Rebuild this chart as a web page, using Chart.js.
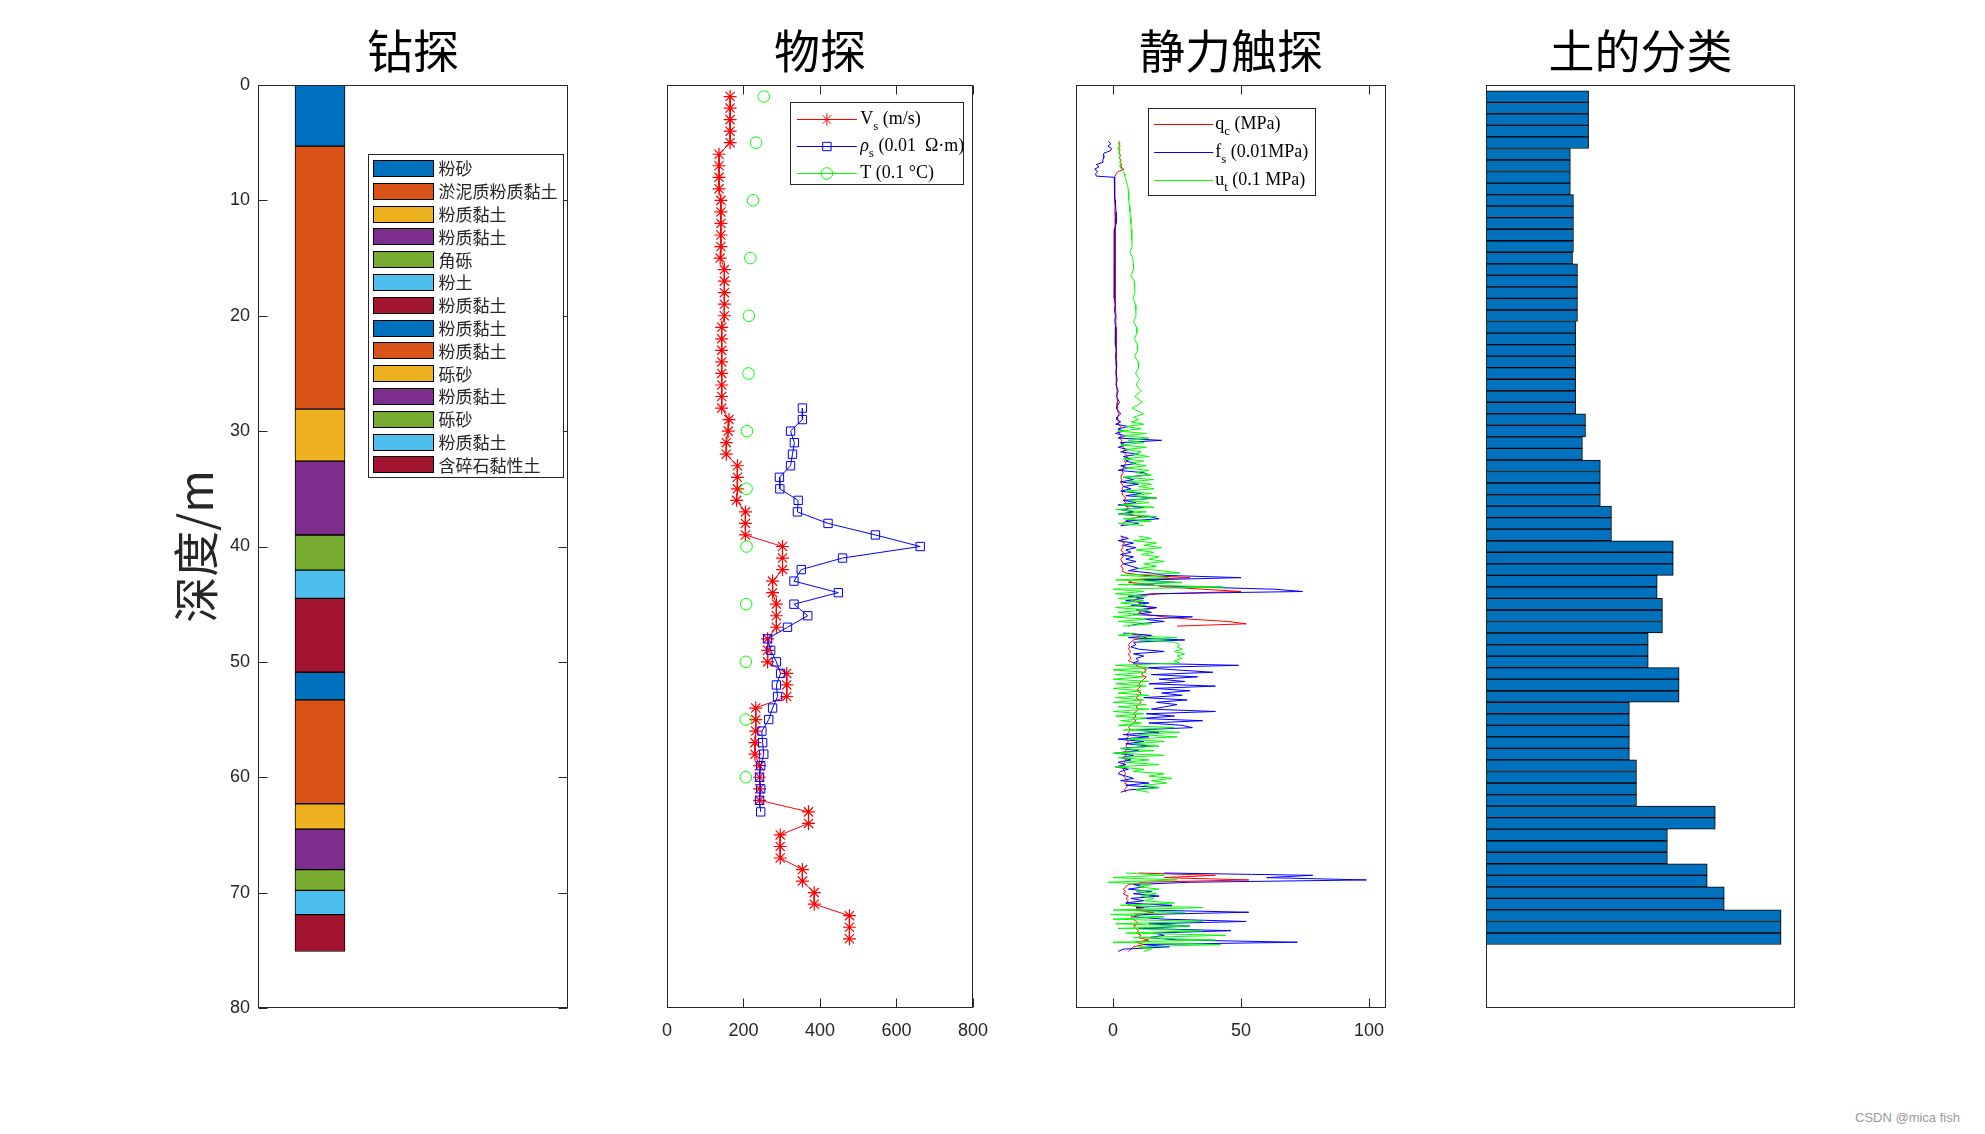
<!DOCTYPE html>
<html><head><meta charset="utf-8">
<script src="https://cdn.jsdelivr.net/npm/chart.js@4"></script>
<style>
html,body{margin:0;padding:0;background:#fff;width:1985px;height:1134px;overflow:hidden;}
canvas{position:absolute;top:0;}
#wm{position:absolute;left:1855px;top:1110px;font:13px "Liberation Sans",Arial,sans-serif;color:#9a9a9a;}
</style></head><body>
<canvas id="c1" width="440" height="1134" style="left:140px"></canvas>
<canvas id="c2" width="360" height="1134" style="left:640px"></canvas>
<canvas id="c3" width="360" height="1134" style="left:1050px"></canvas>
<canvas id="c4" width="345" height="1134" style="left:1470px"></canvas>
<div id="wm">CSDN @mica fish</div>
<script>
// ---------------- DATA ----------------
const panelTitles = ['钻探', '物探', '静力触探', '土的分类'];
const depthLabel = '深度/m';
const depthTicks = [0, 10, 20, 30, 40, 50, 60, 70, 80];

// Panel 1: borehole layers (layer i spans layerDepths[i]..layerDepths[i+1])
const layerNames = ['粉砂', '淤泥质粉质黏土', '粉质黏土', '粉质黏土', '角砾', '粉土', '粉质黏土',
  '粉质黏土', '粉质黏土', '砾砂', '粉质黏土', '砾砂', '粉质黏土', '含碎石黏性土'];
const layerDepths = [0, 5.3, 28.1, 32.6, 39.0, 42.05, 44.5, 50.9, 53.3, 62.3, 64.5, 68.0, 69.8, 71.9, 75.1];
const boreholeX = 0.2;

// Panel 2: geophysics
const geoTicks = [0, 200, 400, 600, 800];
const vsDepth = [1,2,3,4,5,6,7,8,9,10,11,12,13,14,15,16,17,18,19,20,21,22,23,24,25,26,27,28,29,30,31,32,33,34,35,36,37,
  38,39,40,41,42,43,44,45,46,47,48,49,50,51,52,53,54,55,56,57,58,59,60,61,62,63,64,65,66,67,68,69,70,71,72,73,74];
const vsValue = [165,165,165,165,165,136,136,136,136,141,141,141,141,141,139,150,150,150,150,150,143,143,143,143,143,143,143,143,
  162,160,155,155,184,184,184,182,205,205,205,302,302,302,276,276,286,286,286,263,263,263,313,313,313,232,232,232,230,230,
  242,242,242,242,370,370,296,296,296,354,354,385,385,477,477,477];
const rhoDepth = [28,29,30,31,32,33,34,35,36,37,38,39,40,41,42,43,44,45,46,47,48,49,50,51,52,53,54,55,56,57,58,59,60,61,62,63];
const rhoValue = [354,354,323,333,328,323,294,295,343,341,421,545,662,459,351,332,448,332,368,315,263,271,286,297,286,289,
  276,266,248,250,253,245,242,245,242,245];
const tDepth = [1, 5, 10, 15, 20, 25, 30, 35, 40, 45, 50, 55, 60];
const tValue = [253, 233, 225, 218, 214, 213, 209, 208, 208, 207, 206, 206, 206];
const geoLegend = [
  [{t: 'V'}, {t: 's', sub: true}, {t: ' (m/s)'}],
  [{t: 'ρ', italic: true}, {t: 's', sub: true}, {t: ' (0.01  Ω·m)'}],
  [{t: 'T (0.1 °C)'}]
];

// Panel 3: CPT
const cptTicks = [0, 50, 100];
const cptMin = -14.45, cptMax = 106.6;
const cptDepthA = [4.9,5.1,5.3,5.5,5.7,5.9,6.1,6.3,6.5,6.7,6.9,7.1,7.3,7.5,7.7,7.9,8.0,8.4,8.8,9.2,9.6,10,10.5,11,11.5,12,
  12.5,13,13.5,14,14.5,15,15.5,16,16.5,17,17.5,18,18.5,19,19.5,20,20.5,21,21.5,22,22.5,23,23.5,24,24.5,25,25.5,26,26.5,27,27.5,28,28.5,28.8];
const qcA = [2.5,2.2,2.8,2.0,2.6,2.3,3.0,2.4,3.2,2.7,3.5,3.0,4.2,2.0,1.2,0.8,0.6,0.6,0.7,0.6,0.7,0.7,0.8,0.7,0.8,0.8,
  0.9,0.8,0.9,0.9,0.9,1.0,0.9,1.0,1.0,1.1,1.0,1.1,1.1,1.0,1.1,1.2,1.1,1.2,1.2,1.3,1.2,1.3,1.3,1.4,1.3,1.4,1.5,1.4,1.6,1.5,1.8,1.6,2.2,1.8];
const fsA = [-1.8,-0.8,-2.0,-0.5,-1.0,-3.5,-3.8,-3.6,-4.0,-3.9,-6.5,-5.5,-7.2,-6.0,-6.8,-6.5,0.5,0.6,0.5,0.7,0.6,0.8,1.0,1.2,1.3,1.2,
  0.6,0.5,0.4,0.5,0.4,0.5,0.4,0.6,0.5,0.7,0.4,0.6,0.5,0.8,0.6,0.9,0.7,1.0,0.8,1.1,0.9,1.3,1.0,1.2,1.4,1.1,1.6,1.2,2.0,1.4,2.5,1.2,3.0,1.5];
const utA = [2.5,2.6,2.3,2.7,2.4,2.6,2.8,2.5,2.9,2.7,3.0,2.8,3.2,4.0,4.5,4.6,4.8,5.3,5.8,6.0,6.1,6.2,6.4,6.6,6.8,7.0,
  7.1,7.3,7.4,7.5,6.6,7.7,7.9,8.0,7.0,8.3,8.4,8.6,7.8,8.8,8.9,9.0,8.0,9.2,9.3,8.4,9.5,9.6,8.5,9.8,10.0,8.8,10.4,9.0,11.0,8.5,11.5,7.5,12.0,8.0];
// sampled records (start depth, sample step in m)
const cptStartB = 29.0, cptStartC1 = 39.1, cptStartC2 = 47.5, cptStartD = 68.3, cptStep = 0.2;
const qcB = [2,2.5,2,3,2.5,2,2.5,3,2.5,3.5,3,3.5,4,4.5,4,5,5.5,5,4.5,5,4.5,4,3.5,4,3.5,3,3.5,3,3.5,4,3.5,4,3.5,4,5,4,5,4,6,5,8,6,11,7,5,4,3];
const fsB = [1.5,3,1,6,2,4,1,5,2,19,3,5,2,6,3,10,4,7,5,9,3,6,2,12,14,4,8,3,10,4,7,3,11,5,17,4,9,2,12,3,8,2,14,18,5,10,3];
const utB = [10,7,12,5,11,2,13,4,14,6,12,3,13,5,11,8,14,4,12,7,13,5,14,9,15,4,16,6,15,10,16,5,15,8,17,6,14,3,16,1,13,2,17,4,15,2,12];
const qcC1 = [3,4,3,4.5,3.5,4,3,4,3.5,4,3,3.5,4,3,4,3.5,5,12,30,8,6,15,20,35,50,18,9,10,8,11,9,17,12,10,13,20,30,45,52,25];
const fsC1 = [3,6,2,8,4,9,5,7,3,8,5,9,4,7,10,6,15,20,50,12,24,8,30,63,74,15,6,12,5,14,7,17,9,15,8,31,12,20,10,6];
const utC1 = [10,15,8,17,12,19,9,16,11,18,14,20,12,17,10,19,26,3,22,1,27,2,43,0,12,1,13,2,12,3,13,1,14,2,11,0,13,2,15,4];
const qcC2 = [6,10,13,8,7,6,6.5,6,7,6,6.5,7,6,8,9,11,13,12,11,13,12,11,10,11,10,9,11,10,9,10,11,10,9,10,9,8,9,8,9,8,
  7,6,7,6,5.5,6,5,6,5.5,5,6,5,4.5,5,4,5,4.5,4,5,4,4.5,5,4,5,5.5,4.5,6,5,4.5,5];
const fsC2 = [4,15,6,28,8,9,7,10,20,8,12,9,10,8,49,12,25,39,15,33,18,28,14,40,16,30,19,27,12,29,17,25,20,15,40,13,24,11,35,14,
  27,31,9,18,4,14,2,12,5,15,3,10,1,8,3,7,2,5,1,6,3,2,5,8,3,14,5,18,6,3];
const utC2 = [8,2,25,10,24,26,25,27,24,28,25,27,24,26,1,14,0,13,1,12,0,14,1,13,0,11,2,14,1,12,0,13,2,14,0,12,1,13,3,11,
  2,24,4,26,10,25,6,20,8,18,3,16,0,20,2,14,5,18,1,12,8,20,14,23,15,21,12,18,9,14];
const qcD = [10,40,20,53,12,6,5,4,5,4,6,5,6,5,7,12,8,16,9,7,8,9,10,8,9,10,9,11,10,14,9,12,8,7,6];
const fsD = [20,78,60,99,30,8,12,6,15,8,18,7,12,5,23,9,10,53,12,8,20,52,14,30,10,46,16,20,14,25,72,12,22,4,2];
const utD = [5,20,0,25,-2,15,10,18,9,17,11,16,12,24,3,35,0,28,-1,20,0,35,1,30,2,35,5,44,8,40,0,42,10,15,12];
const cptLegend = [
  [{t: 'q'}, {t: 'c', sub: true}, {t: ' (MPa)'}],
  [{t: 'f'}, {t: 's', sub: true}, {t: ' (0.01MPa)'}],
  [{t: 'u'}, {t: 't', sub: true}, {t: ' (0.1 MPa)'}]
];

// Panel 4: soil classification
const soilDepth = vsDepth;
const soilValue = [33.2,33.2,33.2,33.2,33.2,27.3,27.3,27.3,27.3,28.3,28.3,28.3,28.3,28.3,28.0,29.6,29.6,29.6,29.6,29.6,
  29.0,29.0,29.0,29.0,29.0,29.0,29.0,29.0,32.2,32.2,31.2,31.2,37.0,37.0,37.0,37.0,40.6,40.6,40.6,60.6,60.6,60.6,
  55.4,55.4,57.1,57.1,57.1,52.5,52.5,52.5,62.5,62.5,62.5,46.4,46.4,46.4,46.4,46.4,48.7,48.7,48.7,48.7,74.2,74.2,
  58.7,58.7,58.7,71.6,71.6,77.1,77.1,95.5,95.5,95.5];

// ---------------- STYLE ----------------
const CJK = '"Noto Sans CJK SC", "Noto Sans CJK JP", sans-serif';
const SERIF = '"Liberation Serif", "Times New Roman", serif';
const SANS = '"Liberation Sans", Arial, sans-serif';
const AX = '#262626';
const layerColors = ['#0072BD', '#D95319', '#EDB120', '#7E2F8E', '#77AC30', '#4DBEEE', '#A2142F'];
Chart.defaults.font.family = SANS;

// ---------------- PLUGINS ----------------
const framePlugin = {
  id: 'frame',
  afterDraw(chart, args, o) {
    const {ctx, chartArea: a} = chart;
    ctx.save();
    ctx.strokeStyle = AX; ctx.lineWidth = 1;
    const L = Math.round(a.left) + 0.5, R = Math.round(a.right) - 0.5, T = Math.round(a.top) + 0.5, B = Math.round(a.bottom) - 0.5;
    ctx.strokeRect(L, T, R - L, B - T);
    const len = 9;
    ctx.beginPath();
    if (o.yTicks) {
      const s = chart.scales.y;
      for (const t of s.ticks) {
        const p = Math.round(s.getPixelForValue(t.value)) + 0.5;
        ctx.moveTo(L, p); ctx.lineTo(L + len, p);
        ctx.moveTo(R, p); ctx.lineTo(R - len, p);
      }
    }
    if (o.xTicks) {
      const s = chart.scales.x;
      for (const t of s.ticks) {
        const p = Math.round(s.getPixelForValue(t.value)) + 0.5;
        ctx.moveTo(p, B); ctx.lineTo(p, B - len);
        ctx.moveTo(p, T); ctx.lineTo(p, T + len);
      }
    }
    ctx.stroke();
    ctx.restore();
  }
};

function drawRich(ctx, parts, x, y, size) {
  let cx = x;
  ctx.textBaseline = 'middle';
  ctx.textAlign = 'left';
  for (const p of parts) {
    const fs = p.sub ? Math.round(size * 0.72) : size;
    ctx.font = (p.italic ? 'italic ' : '') + fs + 'px ' + SERIF;
    ctx.fillText(p.t, cx, y + (p.sub ? size * 0.4 : 0));
    cx += ctx.measureText(p.t).width;
  }
}

function drawMarker(ctx, style, x, y, color) {
  ctx.save();
  ctx.strokeStyle = color; ctx.lineWidth = 1;
  ctx.beginPath();
  if (style === 'star') {
    const r = 6, d = r * Math.SQRT1_2;
    ctx.moveTo(x - r, y); ctx.lineTo(x + r, y);
    ctx.moveTo(x, y - r); ctx.lineTo(x, y + r);
    ctx.moveTo(x - d, y - d); ctx.lineTo(x + d, y + d);
    ctx.moveTo(x - d, y + d); ctx.lineTo(x + d, y - d);
  } else if (style === 'rect') {
    ctx.rect(x - 4.2, y - 4.2, 8.4, 8.4);
  } else if (style === 'circle') {
    ctx.arc(x, y, 5.8, 0, Math.PI * 2);
  }
  ctx.stroke();
  ctx.restore();
}

const soilLegendPlugin = {
  id: 'soilLegend',
  afterDraw(chart) {
    const {ctx, chartArea: a} = chart;
    const bx = Math.round(a.left + 110) + 0.5, by = Math.round(a.top + 69) + 0.5, bw = 195, bh = 323;
    const pitch = 22.8, first = 13.4;
    ctx.save();
    ctx.fillStyle = '#fff';
    ctx.fillRect(bx, by, bw, bh);
    ctx.strokeStyle = AX; ctx.lineWidth = 1;
    ctx.strokeRect(bx, by, bw, bh);
    layerNames.forEach((name, i) => {
      const cy = by + first + i * pitch;
      ctx.fillStyle = layerColors[i % layerColors.length];
      ctx.fillRect(bx + 5, Math.round(cy - 8) + 0.5, 60, 16);
      ctx.strokeStyle = '#000';
      ctx.strokeRect(bx + 5, Math.round(cy - 8) + 0.5, 60, 16);
      ctx.fillStyle = AX;
      ctx.font = '17px ' + CJK;
      ctx.textBaseline = 'middle';
      ctx.textAlign = 'left';
      ctx.fillText(name, bx + 70, cy + 1);
    });
    ctx.restore();
  }
};

function lineLegendPlugin(id, entries, colors, markers, dx, dy, bw, bh, first, pitch, lineX, lineW, textX) {
  return {
    id,
    afterDraw(chart) {
      const {ctx, chartArea: a} = chart;
      const bx = Math.round(a.left + dx) + 0.5, by = Math.round(a.top + dy) + 0.5;
      ctx.save();
      ctx.fillStyle = '#fff';
      ctx.fillRect(bx, by, bw, bh);
      ctx.strokeStyle = AX; ctx.lineWidth = 1;
      ctx.strokeRect(bx, by, bw, bh);
      entries.forEach((parts, i) => {
        const cy = Math.round(by + first + i * pitch) + 0.5;
        ctx.strokeStyle = colors[i]; ctx.lineWidth = 1;
        ctx.beginPath(); ctx.moveTo(bx + lineX, cy); ctx.lineTo(bx + lineX + lineW, cy); ctx.stroke();
        if (markers) drawMarker(ctx, markers[i], bx + lineX + lineW / 2, cy, colors[i]);
        ctx.fillStyle = '#000';
        drawRich(ctx, parts, bx + textX, cy, 18);
      });
      ctx.restore();
    }
  };
}

// ---------------- HELPERS ----------------
function titleOpt(text) {
  return {display: true, text, fullSize: false, color: '#000',
    font: {family: CJK, size: 46, weight: 'normal'}, padding: {top: 23.4, bottom: 6.4}};
}
function depthAxis(show) {
  return {
    type: 'linear', min: 0, max: 80, reverse: true, display: show, offset: false,
    grid: {display: false, drawTicks: false}, border: {display: false},
    afterBuildTicks: s => { s.ticks = depthTicks.map(v => ({value: v})); },
    ticks: {color: AX, font: {family: SANS, size: 18}, padding: 8},
    title: {display: show, text: depthLabel, color: AX, font: {family: CJK, size: 46, weight: 'normal'}, padding: {top: 28.4, bottom: 0}},
    afterFit: s => { if (show) s.width = 118; }
  };
}
function valueAxis(min, max, tickVals, show) {
  return {
    type: 'linear', min, max, display: show, offset: false, position: 'bottom',
    grid: {display: false, drawTicks: false}, border: {display: false},
    afterBuildTicks: s => { if (tickVals) s.ticks = tickVals.map(v => ({value: v})); },
    ticks: {color: AX, font: {family: SANS, size: 18}, padding: 12, maxRotation: 0, autoSkip: false},
    afterFit: s => { if (show) s.height = 40; }
  };
}
function pairs(ds, vs) { return ds.map((d, i) => ({x: vs[i], y: d})); }
function sampled(start, vs) {
  return vs.map((v, i) => ({x: v, y: Math.round((start + i * cptStep) * 100) / 100}));
}
function joinSegs(segs) {
  const out = [];
  segs.forEach((s, k) => { if (k) out.push({x: null, y: null}); out.push(...s); });
  return out;
}
const baseOpts = {responsive: false, animation: false, events: [], devicePixelRatio: 1};

// ---------------- PANEL 1 ----------------
new Chart(document.getElementById('c1'), {
  type: 'bar',
  data: {
    datasets: [{
      data: layerNames.map((n, i) => ({x: boreholeX, y: [layerDepths[i], layerDepths[i + 1]]})),
      backgroundColor: layerNames.map((n, i) => layerColors[i % layerColors.length]),
      borderColor: '#000', borderWidth: 1, borderSkipped: false, barThickness: 50
    }]
  },
  options: Object.assign({}, baseOpts, {
    layout: {padding: {top: 0, left: 0, right: 12, bottom: 126}},
    scales: {x: valueAxis(0, 1, null, false), y: depthAxis(true)},
    plugins: {legend: {display: false}, tooltip: {enabled: false}, title: titleOpt(panelTitles[0]), frame: {yTicks: true}}
  }),
  plugins: [framePlugin, soilLegendPlugin]
});

// ---------------- PANEL 2 ----------------
new Chart(document.getElementById('c2'), {
  type: 'scatter',
  data: {
    datasets: [
      {data: pairs(tDepth, tValue), showLine: false, pointStyle: 'circle', pointRadius: 5.8,
        pointBorderColor: '#00FF00', pointBackgroundColor: 'rgba(0,0,0,0)', pointBorderWidth: 1, order: 0},
      {data: pairs(rhoDepth, rhoValue), showLine: true, borderColor: '#0000FF', borderWidth: 1, pointStyle: 'rect', pointRadius: 5.9,
        pointBorderColor: '#0000FF', pointBackgroundColor: 'rgba(0,0,0,0)', pointBorderWidth: 1, order: 1},
      {data: pairs(vsDepth, vsValue), showLine: true, borderColor: '#FF0000', borderWidth: 1, pointStyle: 'star', pointRadius: 6.5,
        pointBorderColor: '#FF0000', pointBackgroundColor: '#FF0000', pointBorderWidth: 1.2, order: 2}
    ]
  },
  options: Object.assign({}, baseOpts, {
    layout: {padding: {top: 0, left: 27, right: 23, bottom: 86}},
    scales: {x: valueAxis(0, 800, geoTicks, true), y: depthAxis(false)},
    plugins: {legend: {display: false}, tooltip: {enabled: false}, title: titleOpt(panelTitles[1]), frame: {xTicks: true}}
  }),
  plugins: [framePlugin, lineLegendPlugin('geoLegend', geoLegend, ['#FF0000', '#0000FF', '#00FF00'], ['star', 'rect', 'circle'],
    123, 16.7, 173, 82, 16, 27, 6.4, 60, 69.7)]
});

// ---------------- PANEL 3 ----------------
const qcData = joinSegs([pairs(cptDepthA, qcA).concat(sampled(cptStartB, qcB)), sampled(cptStartC1, qcC1), sampled(cptStartC2, qcC2), sampled(cptStartD, qcD)]);
const fsData = joinSegs([pairs(cptDepthA, fsA).concat(sampled(cptStartB, fsB)), sampled(cptStartC1, fsC1), sampled(cptStartC2, fsC2), sampled(cptStartD, fsD)]);
const utData = joinSegs([pairs(cptDepthA, utA).concat(sampled(cptStartB, utB)), sampled(cptStartC1, utC1), sampled(cptStartC2, utC2), sampled(cptStartD, utD)]);
new Chart(document.getElementById('c3'), {
  type: 'scatter',
  data: {
    datasets: [
      {data: utData, showLine: true, spanGaps: false, borderColor: '#00FF00', borderWidth: 1, pointRadius: 0, order: 0},
      {data: fsData, showLine: true, spanGaps: false, borderColor: '#0000FF', borderWidth: 1, pointRadius: 0, order: 1},
      {data: qcData, showLine: true, spanGaps: false, borderColor: '#FF0000', borderWidth: 1, pointRadius: 0, order: 2}
    ]
  },
  options: Object.assign({}, baseOpts, {
    layout: {padding: {top: 0, left: 26, right: 24, bottom: 86}},
    scales: {x: valueAxis(cptMin, cptMax, cptTicks, true), y: depthAxis(false)},
    plugins: {legend: {display: false}, tooltip: {enabled: false}, title: titleOpt(panelTitles[2]), frame: {xTicks: true}}
  }),
  plugins: [framePlugin, lineLegendPlugin('cptLegend', cptLegend, ['#FF0000', '#0000FF', '#00FF00'], null,
    72, 22.5, 167, 87, 15.8, 27.8, 5.7, 59, 66.7)]
});

// ---------------- PANEL 4 ----------------
new Chart(document.getElementById('c4'), {
  type: 'bar',
  data: {
    datasets: [{
      data: pairs(soilDepth, soilValue),
      backgroundColor: '#0072BD', borderColor: '#000', borderWidth: 1, borderSkipped: false,
      barPercentage: 1, categoryPercentage: 1
    }]
  },
  options: Object.assign({}, baseOpts, {
    indexAxis: 'y',
    layout: {padding: {top: 0, left: 16, right: 20, bottom: 126}},
    scales: {x: valueAxis(0, 100, null, false), y: depthAxis(false)},
    plugins: {legend: {display: false}, tooltip: {enabled: false}, title: titleOpt(panelTitles[3]), frame: {}}
  }),
  plugins: [framePlugin]
});
</script>
</body></html>
